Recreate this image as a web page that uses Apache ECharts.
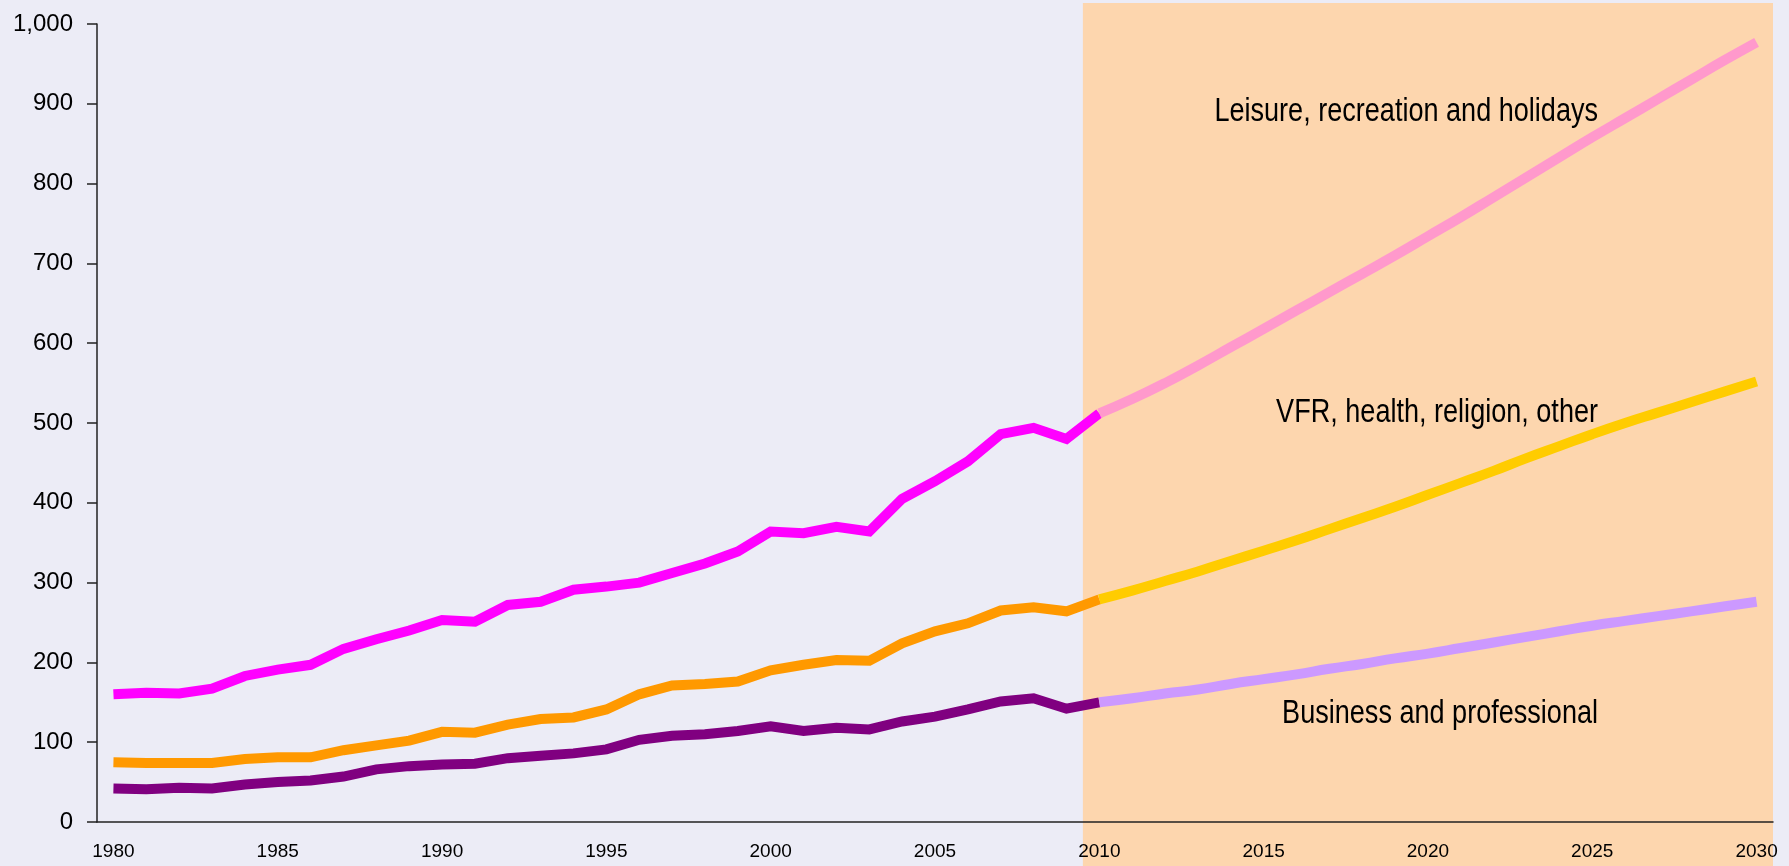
<!DOCTYPE html>
<html>
<head>
<meta charset="utf-8">
<script src="https://cdn.jsdelivr.net/npm/echarts@6/dist/echarts.min.js"></script>
<style>
  html, body { margin: 0; padding: 0; background: #ECECF6; }
  #chart { width: 1789px; height: 866px; }
</style>
</head>
<body>
<div id="chart"></div>
<script>
// years 1980..2030, one category per year
const years = [];
for (let y = 1980; y <= 2030; y++) years.push(String(y));

// historic 1980-2010
const leisureHist = [160, 162, 161, 167, 183, 191, 197, 217, 229, 240, 253, 251, 272, 276, 291, 295,
  300, 312, 324, 339, 364, 362, 370, 364, 405, 427, 452, 486, 494, 480, 512];
const vfrHist = [75, 74, 74, 74, 79, 81, 81, 90, 96, 102, 113, 112, 122, 129, 131, 141,
  160, 171, 173, 176, 190, 197, 203, 202, 224, 239, 249, 265, 269, 264, 279];
const businessHist = [42, 41, 43, 42, 47, 50, 52, 57, 66, 70, 72, 73, 80, 83, 86, 91,
  103, 108, 110, 114, 120, 114, 118, 116, 126, 132, 141, 151, 155, 142, 150];

// forecast 2010-2030
const leisureFc = [512, 530, 550, 572, 595, 618, 641, 664, 687, 710, 734, 758, 783, 808, 833, 858,
  882, 906, 930, 954, 977];
const vfrFc = [279, 290, 302, 314, 327, 340, 353, 367, 381, 395, 410, 425, 440, 456, 471, 486,
  500, 513, 526, 539, 552];
const businessFc = [150, 155, 161, 166, 173, 179, 185, 192, 198, 205, 211, 218, 225, 232, 239, 246,
  252, 258, 264, 270, 276];

const labels = ['Leisure, recreation and holidays', 'VFR, health, religion, other', 'Business and professional'];

const font = "'Liberation Sans', Arial, sans-serif";

// pad the arrays so they line up with the 51 year categories
function hist(arr) {
  return arr.concat(new Array(years.length - arr.length).fill(null));
}
function fc(arr) {
  return new Array(years.length - arr.length).fill(null).concat(arr);
}
function line(name, data, color, smooth) {
  return {
    name: name,
    type: 'line',
    data: data,
    symbol: 'none',
    smooth: smooth,
    connectNulls: false,
    lineStyle: { color: color, width: 10, join: 'miter', cap: 'butt' },
    z: 3
  };
}
// narrow-looking text: squeeze a normal sans horizontally, right edge fixed
function note(text, right, top) {
  return {
    type: 'text', z: 10, silent: true,
    x: right, y: top, scaleX: 0.82,
    style: { text: text, font: '33px ' + font, fill: '#000', align: 'right', verticalAlign: 'top' }
  };
}

const chart = echarts.init(document.getElementById('chart'));
chart.setOption({
  animation: false,
  backgroundColor: '#ECECF6',
  grid: { left: 97, right: 16, top: 24, bottom: 44 },
  xAxis: {
    type: 'category',
    data: years,
    boundaryGap: true,
    axisLine: { lineStyle: { color: '#222', width: 1.5 } },
    axisTick: { interval: 4, length: 8, lineStyle: { color: '#222', width: 1.5 } },
    axisLabel: { interval: 4, margin: 20, fontSize: 19, color: '#000', fontFamily: font }
  },
  yAxis: {
    type: 'value',
    min: 0,
    max: 1000,
    interval: 100,
    splitLine: { show: false },
    axisLine: { show: true, lineStyle: { color: '#222', width: 1.5 } },
    axisTick: { show: true, length: 10, lineStyle: { color: '#222', width: 1.5 } },
    axisLabel: { margin: 24, fontSize: 24, color: '#000', fontFamily: font }
  },
  series: [
    line(labels[0], hist(leisureHist), '#FF00FF', false),
    line(labels[1], hist(vfrHist), '#FF9900', false),
    line(labels[2], hist(businessHist), '#800080', false),
    line(labels[0] + ' (forecast)', fc(leisureFc), '#FF99CC', true),
    line(labels[1] + ' (forecast)', fc(vfrFc), '#FFCC00', true),
    line(labels[2] + ' (forecast)', fc(businessFc), '#CC99FF', true)
  ]
});

// shaded forecast period, from the 2010 band edge to the end of the axis
const p09 = chart.convertToPixel({ xAxisIndex: 0 }, '2009');
const p10 = chart.convertToPixel({ xAxisIndex: 0 }, '2010');
const p30 = chart.convertToPixel({ xAxisIndex: 0 }, '2030');
const band = p10 - p09;
const x0 = p10 - band / 2;
const x1 = p30 + band / 2;

chart.setOption({
  graphic: [
    {
      type: 'rect', z: -10, silent: true,
      shape: { x: x0, y: 3, width: x1 - x0, height: 866 },
      style: { fill: '#FDD6AE' }
    },
    note(labels[0], 1598, 95),
    note(labels[1], 1598, 396),
    note(labels[2], 1598, 697)
  ]
});
</script>
</body>
</html>
